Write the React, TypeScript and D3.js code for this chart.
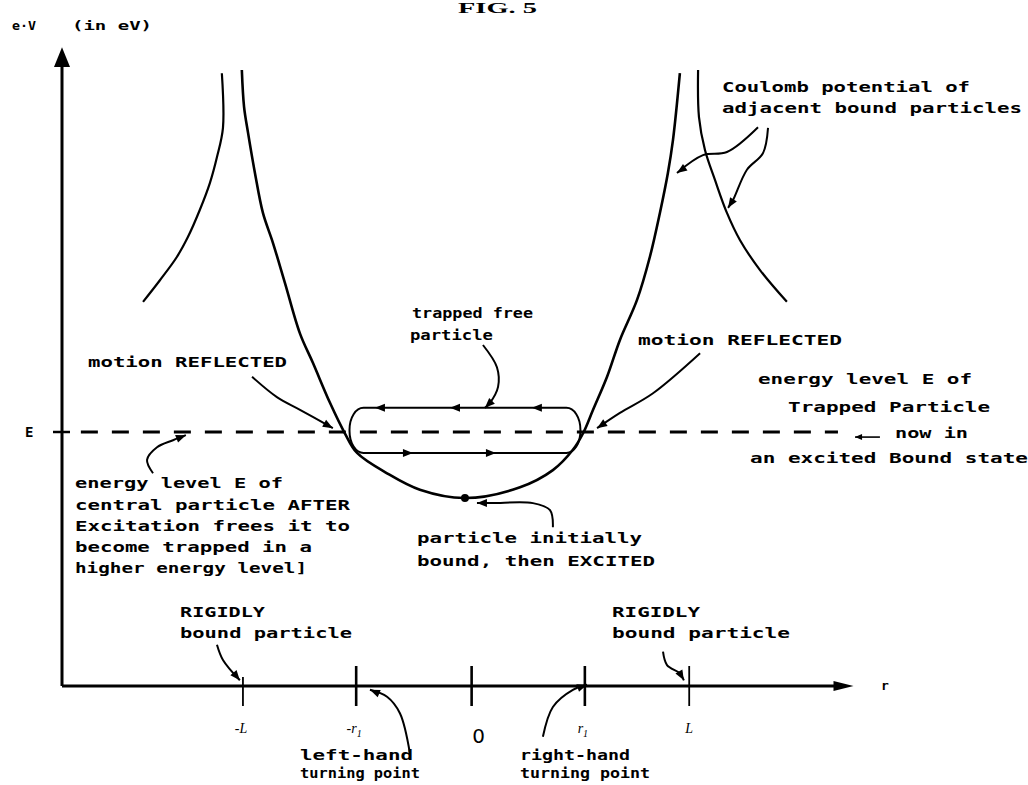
import * as d3 from "d3";

const W = 1028;
const H = 785;

// potential curves: r in units of L, V in the figure's eV units
const leftOuterR = [-1.095, -1.09, -1.117, -1.149, -1.194, -1.248, -1.297, -1.374, -1.45];
const leftOuterV = [9.65, 8.79, 8.33, 7.92, 7.5, 7.07, 6.76, 6.39, 6.05];

const wellR = [-1.005, -0.995, -0.977, -0.946, -0.91, -0.865, -0.811, -0.743, -0.685, -0.608, -0.541, -0.486, -0.351, -0.203, 0, 0.248, 0.396, 0.486, 0.532, 0.577, 0.64, 0.698, 0.775, 0.833, 0.878, 0.914, 0.937, 0.968];
const wellV = [9.7, 9.12, 8.71, 8.08, 7.45, 6.98, 6.35, 5.55, 5.09, 4.46, 3.98, 3.67, 3.35, 3.09, 2.96, 3.13, 3.4, 3.72, 3.98, 4.35, 4.87, 5.45, 6.08, 6.76, 7.45, 8.08, 8.6, 9.65];

const rightOuterR = [1.05, 1.054, 1.081, 1.126, 1.18, 1.239, 1.329, 1.45];
const rightOuterV = [9.7, 8.96, 8.44, 7.97, 7.45, 7.02, 6.55, 6.05];

// energy level E and the trapped orbit
const energyLevel = 4.0;
const orbitR = [-0.52, 0.52];
const orbitV = [3.67, 4.38];
const orbitLeftArrows = [-0.383, -0.045, 0.324];
const orbitRightArrows = [-0.257, 0.117];

// r axis ticks
const tickValues = [-1.0, -0.49, 0.03, 0.54, 1.01];
const tickLabels = ["-L", "-r", "0", "r", "L"];

// annotation pointer paths [r, V]
const ptrCoulombA: [number, number][] = [[1.32, 8.8], [1.18, 8.41], [1.072, 8.36], [0.955, 8.08]];
const ptrCoulombB: [number, number][] = [[1.365, 8.79], [1.342, 8.39], [1.27, 8.13], [1.207, 7.65], [1.185, 7.53]];
const ptrTrapped: [number, number][] = [[0.081, 5.37], [0.144, 5.02], [0.149, 4.71], [0.113, 4.46], [0.09, 4.38]];
const ptrReflLeft: [number, number][] = [[-0.959, 4.87], [-0.847, 4.55], [-0.743, 4.35], [-0.595, 4.06]];
const ptrReflRight: [number, number][] = [[1.059, 5.24], [0.847, 4.61], [0.698, 4.3], [0.595, 4.06]];
const ptrEnergyLeft: [number, number][] = [[-1.405, 3.35], [-1.432, 3.56], [-1.387, 3.76], [-1.315, 3.87], [-1.257, 3.95]];
const ptrInitial: [number, number][] = [[0.396, 2.5], [0.383, 2.77], [0.306, 2.88], [0.126, 2.88], [0.054, 2.88]];
const ptrRigidLeft: [number, number][] = [[-1.117, 0.65], [-1.09, 0.41], [-1.014, 0.09]];
const ptrRigidRight: [number, number][] = [[0.892, 0.54], [0.91, 0.33], [0.968, 0.2], [0.986, 0.09]];
const ptrTurnLeft: [number, number][] = [[-0.248, -1.06], [-0.293, -0.43], [-0.351, -0.17], [-0.428, -0.06]];
const ptrTurnRight: [number, number][] = [[0.351, -0.8], [0.396, -0.33], [0.486, -0.06], [0.55, 0.02]];
const ptrNowIn: [number, number][] = [[1.869, 3.92], [1.757, 3.92]];

const x = d3.scaleLinear().domain([-1.815, 1.75]).range([62, 853.5]);
const y = d3.scaleLinear().domain([0, 10]).range([686, 51]);

const curve = d3
  .line<[number, number]>()
  .x((d) => x(d[0]))
  .y((d) => y(d[1]))
  .curve(d3.curveCatmullRom.alpha(0.5));

const zip = (rs: number[], vs: number[]) => rs.map((r, i) => [r, vs[i]] as [number, number]);

// filled triangle at the end of a pointer
function head(pts: [number, number][], len = 10, wid = 8) {
  const p = pts.map((d) => [x(d[0]), y(d[1])]);
  const [x1, y1] = p[p.length - 2];
  const [x2, y2] = p[p.length - 1];
  const a = Math.atan2(y2 - y1, x2 - x1);
  const bx = x2 - len * Math.cos(a);
  const by = y2 - len * Math.sin(a);
  const px = (-Math.sin(a) * wid) / 2;
  const py = (Math.cos(a) * wid) / 2;
  return `M${x2},${y2}L${bx + px},${by + py}L${bx - px},${by - py}Z`;
}

// horizontal arrow mark on the orbit
function orbitArrow(r: number, v: number, dir: number) {
  const cx = x(r);
  const cy = y(v);
  return `M${cx + dir * 5},${cy}L${cx - dir * 5},${cy - 4}L${cx - dir * 5},${cy + 4}Z`;
}

const FONT = "'DejaVu Sans Mono', monospace";

// text blocks: [text, left, baseline, width]
const labels: [string, number, number, number][] = [
  ["Coulomb potential of", 722, 92, 248],
  ["adjacent bound particles", 722, 113, 300],
  ["trapped free", 412, 318, 121],
  ["particle", 410, 340, 83],
  ["motion REFLECTED", 88, 367, 199],
  ["motion REFLECTED", 638, 345, 204],
  ["energy level E of", 758, 384, 214],
  ["Trapped Particle", 788, 412, 202],
  ["now in", 895, 438, 73],
  ["an excited Bound state", 750, 463, 278],
  ["energy level E of", 75, 488, 208],
  ["central particle AFTER", 75, 510, 275],
  ["Excitation frees it to", 75, 531, 275],
  ["become trapped in a", 75, 552, 237],
  ["higher energy level]", 75, 573, 232],
  ["particle initially", 417, 543, 225],
  ["bound, then EXCITED", 417, 566, 238],
  ["RIGIDLY", 180, 617, 85],
  ["bound particle", 180, 638, 172],
  ["RIGIDLY", 612, 617, 88],
  ["bound particle", 612, 638, 178],
  ["left-hand", 300, 760, 113],
  ["turning point", 300, 778, 120],
  ["right-hand", 520, 760, 110],
  ["turning point", 520, 778, 130],
];

export default function App() {
  const pointers = [
    ptrCoulombA,
    ptrCoulombB,
    ptrTrapped,
    ptrReflLeft,
    ptrReflRight,
    ptrEnergyLeft,
    ptrInitial,
    ptrRigidLeft,
    ptrRigidRight,
    ptrTurnLeft,
    ptrTurnRight,
  ];
  const [r0, r1] = [x.domain()[0], x.domain()[1]];

  return (
    <svg
      width={W}
      height={H}
      style={{ position: "absolute", left: 0, top: 0, background: "#fff" }}
    >
      {/* title */}
      <text x={458} y={13} fontFamily="'Liberation Serif', serif" fontWeight="bold" fontSize={14} textLength={79} lengthAdjust="spacingAndGlyphs">
        FIG. 5
      </text>

      {/* y axis */}
      <line x1={x(r0)} x2={x(r0)} y1={y(0)} y2={y(9.8)} stroke="#000" strokeWidth={3} />
      <path
        d={`M${x(r0)},${y(10.06)}L${x(r0) - 8},${y(9.75)}L${x(r0) + 8},${y(9.75)}Z`}
        fill="#000"
      />
      <text x={12} y={30} fontFamily={FONT} fontWeight="bold" fontSize={13} textLength={24} lengthAdjust="spacingAndGlyphs">
        e·V
      </text>
      <text x={72} y={30} fontFamily={FONT} fontWeight="bold" fontSize={13} textLength={80} lengthAdjust="spacingAndGlyphs">
        (in eV)
      </text>

      {/* x axis */}
      <line x1={x(r0)} x2={x(r1) - 12} y1={y(0)} y2={y(0)} stroke="#000" strokeWidth={3} />
      <path
        d={`M${x(r1)},${y(0)}L${x(r1) - 20},${y(0) - 5}L${x(r1) - 20},${y(0) + 5}Z`}
        fill="#000"
      />
      <text x={881} y={690} fontFamily={FONT} fontWeight="bold" fontSize={13}>
        r
      </text>

      {tickValues.map((t, i) => (
        <line
          key={`t${i}`}
          x1={x(t)}
          x2={x(t)}
          y1={y(0) - (i === 0 ? 9 : 20)}
          y2={y(0) + 20}
          stroke="#000"
          strokeWidth={i === 0 || i === 4 ? 1.8 : 2.6}
        />
      ))}
      {tickLabels.map((t, i) =>
        t === "0" ? (
          <text key={`l${i}`} x={x(tickValues[i]) + 7} y={743} textAnchor="middle" fontFamily="'DejaVu Sans', sans-serif" fontSize={20}>
            0
          </text>
        ) : (
          <text key={`l${i}`} x={x(tickValues[i]) + (i === 4 ? 0 : -2)} y={733} textAnchor="middle" fontFamily="'Liberation Serif', serif" fontStyle="italic" fontSize={14}>
            {t}
            {t.endsWith("r") ? (
              <tspan dy={4} fontSize={10}>
                1
              </tspan>
            ) : null}
          </text>
        ),
      )}

      {/* energy level E */}
      <line x1={x(r0) - 9} x2={x(r0) + 8} y1={y(energyLevel)} y2={y(energyLevel)} stroke="#000" strokeWidth={2.5} />
      <text x={25} y={437} fontFamily={FONT} fontWeight="bold" fontSize={14}>
        E
      </text>
      <line
        x1={x(-1.73)}
        x2={x(1.68)}
        y1={y(energyLevel)}
        y2={y(energyLevel)}
        stroke="#000"
        strokeWidth={3}
        strokeDasharray="17 14"
      />

      {/* potential curves */}
      <path d={curve(zip(leftOuterR, leftOuterV)) ?? ""} fill="none" stroke="#000" strokeWidth={2.2} />
      <path d={curve(zip(wellR, wellV)) ?? ""} fill="none" stroke="#000" strokeWidth={2.6} />
      <path d={curve(zip(rightOuterR, rightOuterV)) ?? ""} fill="none" stroke="#000" strokeWidth={2.2} />

      {/* trapped orbit */}
      <rect
        x={x(orbitR[0])}
        y={y(orbitV[1])}
        width={x(orbitR[1]) - x(orbitR[0])}
        height={y(orbitV[0]) - y(orbitV[1])}
        rx={14}
        ry={22}
        fill="none"
        stroke="#000"
        strokeWidth={2}
      />
      {orbitLeftArrows.map((r, i) => (
        <path key={`ol${i}`} d={orbitArrow(r, orbitV[1], -1)} fill="#000" />
      ))}
      {orbitRightArrows.map((r, i) => (
        <path key={`or${i}`} d={orbitArrow(r, orbitV[0], 1)} fill="#000" />
      ))}

      {/* initially bound particle */}
      <circle cx={x(0)} cy={y(2.96)} r={4} fill="#000" />

      {/* pointers */}
      {pointers.map((p, i) => (
        <g key={`p${i}`}>
          <path d={curve(p) ?? ""} fill="none" stroke="#000" strokeWidth={2} />
          <path d={head(p)} fill="#000" />
        </g>
      ))}
      <line x1={x(ptrNowIn[0][0])} x2={x(ptrNowIn[1][0])} y1={y(ptrNowIn[0][1])} y2={y(ptrNowIn[1][1])} stroke="#000" strokeWidth={1.6} />
      <path d={head(ptrNowIn, 7, 6)} fill="#000" />

      {/* annotation text */}
      {labels.map(([t, lx, ly, w], i) => (
        <text
          key={`a${i}`}
          x={lx}
          y={ly}
          fontFamily={FONT}
          fontWeight="bold"
          fontSize={14}
          textLength={w}
          lengthAdjust="spacingAndGlyphs"
        >
          {t}
        </text>
      ))}
    </svg>
  );
}
